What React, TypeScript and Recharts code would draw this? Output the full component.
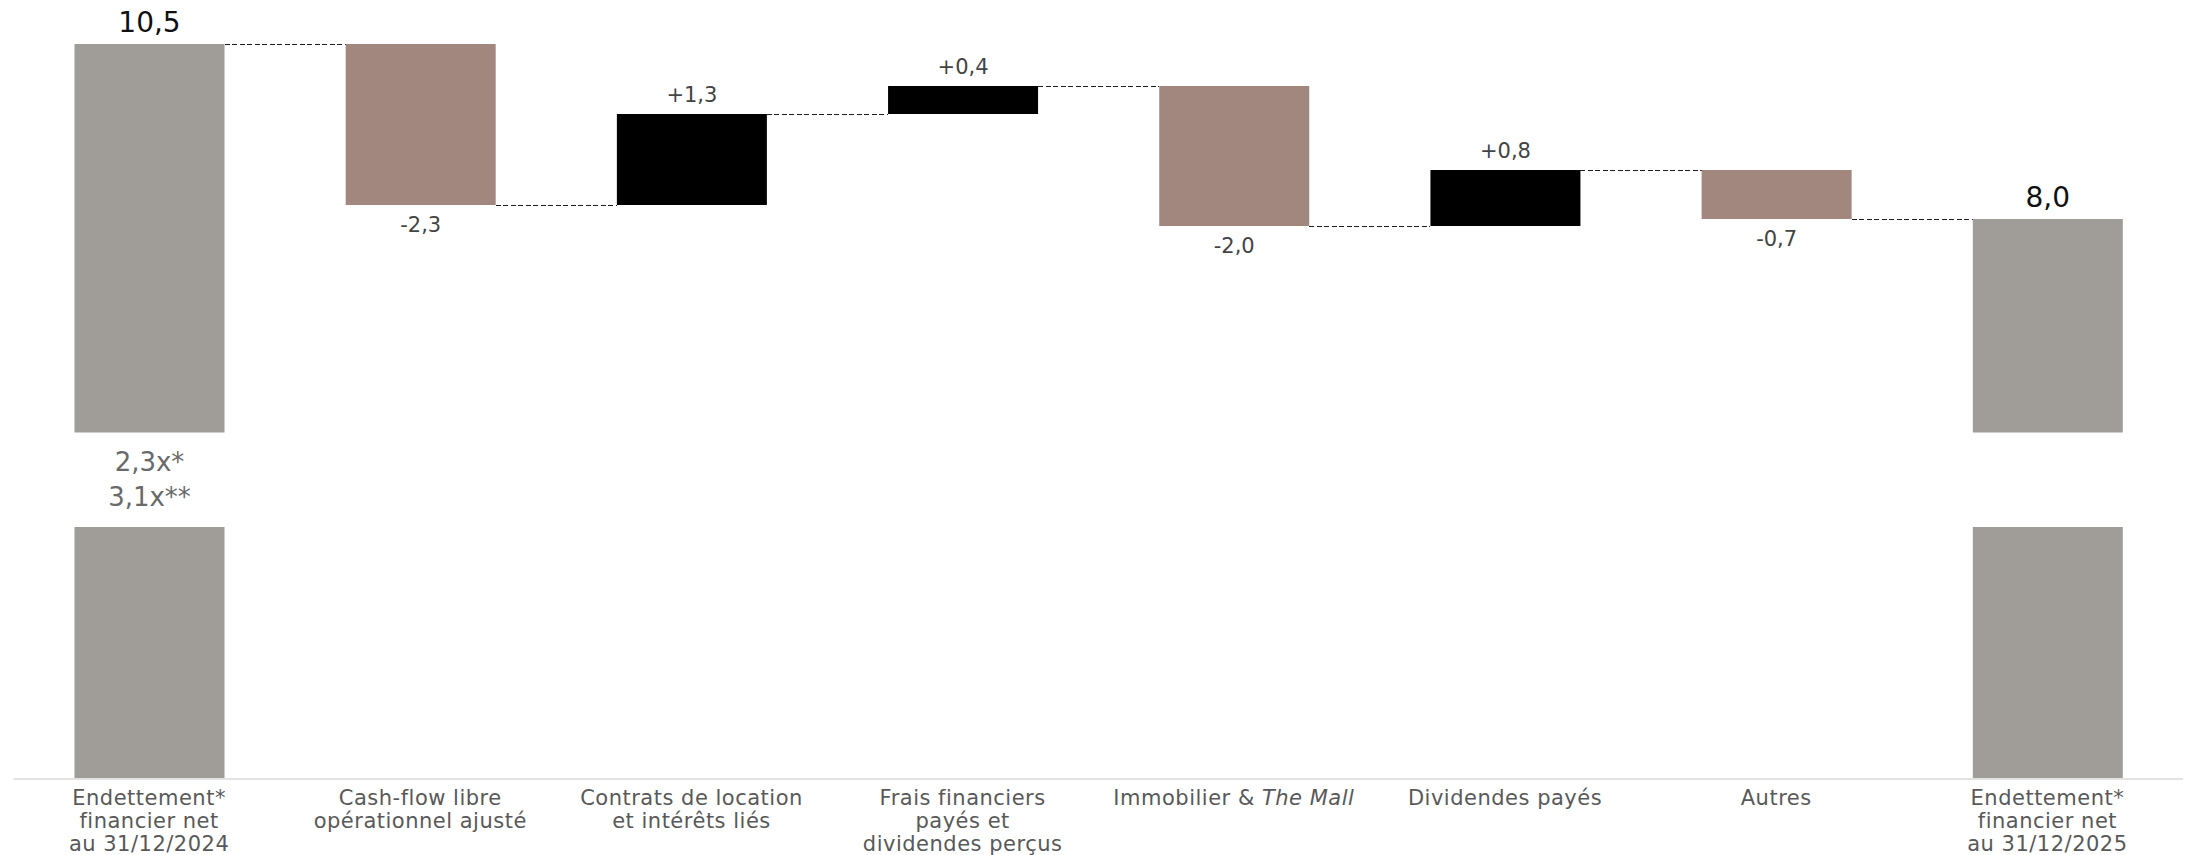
import React from "react";
import { BarChart, Bar, XAxis, YAxis, Cell, LabelList } from "recharts";

const CATEGORIES = [
  "Endettement*\nfinancier net\nau 31/12/2024",
  "Cash-flow libre\nopérationnel ajusté",
  "Contrats de location\net intérêts liés",
  "Frais financiers\npayés et\ndividendes perçus",
  "Immobilier & The Mall",
  "Dividendes payés",
  "Autres",
  "Endettement*\nfinancier net\nau 31/12/2025",
];
const VALUES = [10.5, -2.3, 1.3, 0.4, -2.0, 0.8, -0.7, 8.0];
const IS_TOTAL = [true, false, false, false, false, false, false, true];
const RATIO_LABELS: string[][] = [["2,3x*", "3,1x**"], [], [], [], [], [], [], ["2,2x*", "3,4x**"]];
// axis break drawn through the two total bars
const BREAK_LOW = 3.6;
const BREAK_HIGH = 4.95;
const ITALIC_PART = "The Mall";

const GRAY = "#a09d98";
const BROWN = "#a2877f";
const BLACK = "#000000";
const FONT = "'DejaVu Sans', 'Open Sans', sans-serif";

const W = 2185;
const H = 855;
const MARGIN = { top: 44, right: 2, left: 13.5, bottom: 0 };
const BAR_SIZE = 150;
const BAND = (W - MARGIN.left - MARGIN.right) / CATEGORIES.length;

let running = 0;
const rows = CATEGORIES.map((name, i) => {
  const v = VALUES[i];
  if (IS_TOTAL[i]) {
    running = v;
    return { name, base: 0, lower: BREAK_LOW, gap: BREAK_HIGH - BREAK_LOW, upper: v - BREAK_HIGH, delta: 0, value: v, total: true };
  }
  const start = running;
  running = start + v;
  return { name, base: Math.min(start, running), lower: 0, gap: 0, upper: 0, delta: Math.abs(v), value: v, total: false };
});

const fmt = (v: number) => Math.abs(v).toFixed(1).replace(".", ",");

function Connector({ x, width, level, index }: any) {
  if (index >= rows.length - 1) return null;
  return (
    <line
      x1={x + width}
      x2={x + width + (BAND - width)}
      y1={level}
      y2={level}
      stroke="#1e1e1e"
      strokeWidth={1}
      strokeDasharray="5 2.5"
      shapeRendering="crispEdges"
    />
  );
}

function TotalShape(props: any) {
  const { x, y, width, height, index } = props;
  if (!rows[index]?.total) return null;
  return (
    <g>
      <rect x={x} y={y} width={width} height={height} fill={GRAY} />
      <Connector x={x} width={width} level={y} index={index} />
    </g>
  );
}

function DeltaShape(props: any) {
  const { x, y, width, height, index, fill } = props;
  const row = rows[index];
  if (!row || row.total) return null;
  const level = row.value >= 0 ? y : y + height;
  return (
    <g>
      <rect x={x} y={y} width={width} height={height} fill={fill} />
      <Connector x={x} width={width} level={level} index={index} />
    </g>
  );
}

function TotalLabel(props: any) {
  const { x, y, width, index } = props;
  const row = rows[index];
  if (!row?.total) return null;
  return (
    <text x={x + width / 2} y={y - 22} textAnchor="middle" dominantBaseline="central" fontSize={28} fontFamily={FONT} fill="#111">
      {fmt(row.value)}
    </text>
  );
}

function DeltaLabel(props: any) {
  const { x, y, width, height, index } = props;
  const row = rows[index];
  if (!row || row.total) return null;
  const up = row.value >= 0;
  return (
    <text
      x={x + width / 2}
      y={up ? y - 19 : y + height + 20}
      textAnchor="middle"
      dominantBaseline="central"
      fontSize={21}
      fontFamily={FONT}
      fill="#444"
    >
      {(up ? "+" : "-") + fmt(row.value)}
    </text>
  );
}

function RatioLabel(props: any) {
  const { x, y, width, height, index } = props;
  const lines = RATIO_LABELS[index] || [];
  if (!lines.length) return null;
  const cx = x + width / 2;
  const mid = y + height / 2;
  return (
    <g>
      {lines.map((l, i) => (
        <text key={i} x={cx} y={mid + (i - 0.5) * 35} textAnchor="middle" dominantBaseline="central" fontSize={26} fontFamily={FONT} fill="#6a6a6a">
          {l}
        </text>
      ))}
    </g>
  );
}

function CategoryTick({ x, y, payload }: any) {
  const lines: string[] = String(payload.value).split("\n");
  return (
    <text x={x} y={y} textAnchor="middle" fontSize={21} letterSpacing={0.5} fontFamily={FONT} fill="#595959">
      {lines.map((line, i) => {
        const k = line.indexOf(ITALIC_PART);
        return (
          <tspan key={i} x={x} dy={i === 0 ? 18 : 23}>
            {k < 0 ? (
              line
            ) : (
              <>
                {line.slice(0, k)}
                <tspan fontStyle="italic">{ITALIC_PART}</tspan>
                {line.slice(k + ITALIC_PART.length)}
              </>
            )}
          </tspan>
        );
      })}
    </text>
  );
}

export default function App() {
  return (
    <div style={{ position: "absolute", left: 0, top: 0, width: W, height: H, background: "#fff" }}>
      <BarChart width={W} height={H} data={rows} margin={MARGIN} barSize={BAR_SIZE}>
        <XAxis
          dataKey="name"
          interval={0}
          height={76}
          tickLine={false}
          axisLine={{ stroke: "#e3e3e3", strokeWidth: 2 }}
          tick={<CategoryTick />}
        />
        <YAxis hide domain={[0, 10.5]} />
        <Bar dataKey="base" stackId="w" fill="transparent" isAnimationActive={false} />
        <Bar dataKey="lower" stackId="w" fill={GRAY} isAnimationActive={false} />
        <Bar dataKey="gap" stackId="w" fill="transparent" isAnimationActive={false}>
          <LabelList content={<RatioLabel />} />
        </Bar>
        <Bar dataKey="upper" stackId="w" fill={GRAY} shape={<TotalShape />} isAnimationActive={false}>
          <LabelList content={<TotalLabel />} />
        </Bar>
        <Bar dataKey="delta" stackId="w" shape={<DeltaShape />} isAnimationActive={false}>
          {rows.map((r, i) => (
            <Cell key={i} fill={r.value >= 0 ? BLACK : BROWN} />
          ))}
          <LabelList content={<DeltaLabel />} />
        </Bar>
      </BarChart>
    </div>
  );
}
